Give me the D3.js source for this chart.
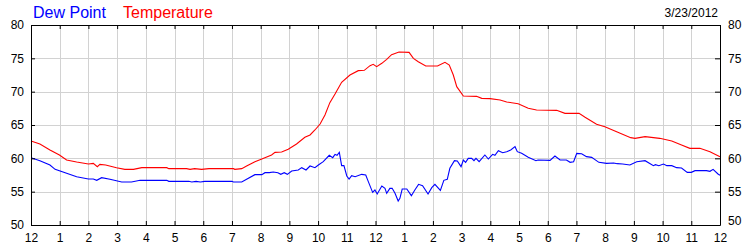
<!DOCTYPE html>
<html>
<head>
<meta charset="utf-8">
<script src="https://cdn.jsdelivr.net/npm/d3@7"></script>
<style>
  html, body { margin: 0; padding: 0; background: #fff; }
  svg { display: block; font-family: "Liberation Sans", Arial, sans-serif; }
</style>
</head>
<body>
<svg id="chart" width="750" height="250"></svg>
<script>
// ---- data ----
const xTickLabels = ["12","1","2","3","4","5","6","7","8","9","10","11","12","1","2","3","4","5","6","7","8","9","10","11","12"];
const yTicks = [50, 55, 60, 65, 70, 75, 80];
const chartDate = "3/23/2012";
const seriesNames = ["Dew Point", "Temperature"];

// hours since midnight, temperature (F)
const tempHours = [0,0.31,0.66,0.99,1.24,1.59,2.0,2.17,2.31,2.4,2.6,2.98,3.27,3.57,3.86,4.73,4.8,5.42,5.54,5.7,5.94,6.2,7.05,7.1,7.34,7.51,7.8,8.04,8.38,8.5,8.73,8.96,9.25,9.54,9.72,9.89,10.07,10.24,10.41,10.59,10.82,11.11,11.4,11.61,11.81,11.92,12.04,12.22,12.39,12.56,12.82,13.17,13.32,13.49,13.75,14.16,14.42,14.57,14.71,14.83,15.06,15.52,15.7,15.99,16.34,16.57,16.97,17.32,17.61,18.31,18.6,19.09,19.3,19.7,19.99,20.4,20.89,21.04,21.39,21.9,22.32,22.66,22.95,23.3,23.65,24];
const tempValues = [62.6,62.15,61.25,60.5,59.75,59.45,59.15,59.25,58.75,59.1,59.0,58.6,58.35,58.35,58.6,58.6,58.45,58.45,58.35,58.45,58.35,58.45,58.45,58.35,58.45,58.85,59.5,59.9,60.5,60.9,60.95,61.35,62.15,63.15,63.5,64.25,65.15,66.5,68.35,69.65,71.4,72.5,73.15,73.2,73.9,74.1,73.75,74.25,74.85,75.55,75.95,75.9,75.0,74.5,73.85,73.85,74.4,74.0,72.5,70.75,69.35,69.3,69.0,68.95,68.75,68.45,68.2,67.5,67.25,67.2,66.75,66.75,66.15,65.1,64.75,64.0,63.1,63.0,63.25,63.0,62.6,62.0,61.5,61.5,61.0,60.25];

// hours since midnight, dew point (F)
const dewHours = [0,0.31,0.66,0.84,1.24,1.59,2.0,2.17,2.29,2.46,2.75,3.16,3.5,3.8,4.73,4.8,5.5,5.6,5.75,5.9,6.05,7.0,7.05,7.34,7.51,7.8,8.04,8.15,8.3,8.44,8.6,8.7,8.82,8.93,9.08,9.31,9.43,9.58,9.72,9.89,10.01,10.18,10.39,10.51,10.59,10.66,10.74,10.82,10.9,11.0,11.08,11.17,11.29,11.52,11.66,11.75,11.9,11.98,12.06,12.22,12.33,12.39,12.5,12.58,12.68,12.79,12.85,12.93,13.09,13.25,13.37,13.5,13.64,13.83,13.96,14.07,14.26,14.38,14.5,14.59,14.75,14.85,14.98,15.06,15.14,15.23,15.35,15.43,15.5,15.61,15.81,15.93,16.08,16.16,16.28,16.43,16.57,16.71,16.86,16.94,17.09,17.32,17.59,17.66,18.08,18.25,18.43,18.65,18.78,18.9,19.01,19.18,19.35,19.53,19.78,20.05,20.3,20.42,20.61,20.86,21.1,21.39,21.68,21.75,21.87,22.03,22.15,22.32,22.49,22.66,22.86,23.0,23.13,23.53,23.65,23.76,23.93,24];
const dewValues = [60.1,59.65,59.0,58.35,57.75,57.25,56.9,56.9,56.7,57.1,56.85,56.45,56.45,56.7,56.7,56.55,56.55,56.45,56.55,56.45,56.55,56.55,56.45,56.45,56.85,57.55,57.55,57.85,57.85,57.95,57.85,57.6,57.85,57.6,58.1,58.25,58.6,58.25,58.85,58.6,59.0,59.5,60.45,60.1,60.6,60.45,60.9,58.9,58.9,57.35,56.9,57.4,57.25,57.6,57.5,56.5,54.9,55.25,54.65,55.85,55.5,54.75,55.5,55.5,54.75,53.6,54.0,55.4,55.4,54.4,55.25,56.1,55.9,54.65,55.6,56.1,55.2,56.7,56.85,58.5,59.65,59.6,58.75,59.75,59.4,60.0,60.0,59.65,60.0,59.5,60.5,59.9,60.6,60.45,61.15,60.85,61.0,61.25,61.75,61.0,60.75,60.15,59.65,59.75,59.7,60.35,59.75,59.75,59.4,59.5,60.75,60.7,60.25,60.15,59.4,59.25,59.3,59.2,59.15,59.0,59.5,59.65,58.9,59.05,58.9,59.15,58.9,58.9,58.6,58.55,57.9,57.9,58.15,58.15,58.05,58.35,57.65,57.45];

// ---- layout ----
const margin = { left: 31, right: 30, top: 25, bottom: 25 };
const W = 750, H = 250;
const x0 = margin.left, x1 = W - margin.right, y0 = H - margin.bottom, y1 = margin.top;

const svg = d3.select("#chart");
const x = d3.scaleLinear().domain([0, 24]).range([x0, x1]);
const y = d3.scaleLinear().domain([50, 80]).range([y0, y1]);
const hourTicks = d3.range(0, 25);

// grid
const grid = svg.append("g").attr("stroke", "#d2d2d2").attr("stroke-width", 1).attr("shape-rendering", "crispEdges");
grid.selectAll("line.v").data(hourTicks.slice(1, -1)).join("line")
  .attr("x1", d => Math.round(x(d)) + 0.5).attr("x2", d => Math.round(x(d)) + 0.5)
  .attr("y1", y1).attr("y2", y0);
grid.selectAll("line.h").data(yTicks.slice(1, -1)).join("line")
  .attr("y1", d => Math.round(y(d)) + 0.5).attr("y2", d => Math.round(y(d)) + 0.5)
  .attr("x1", x0).attr("x2", x1);

// lines
const tempData = tempHours.map((h, i) => [h, tempValues[i]]);
const dewData = dewHours.map((h, i) => [h, dewValues[i]]);
const line = d3.line().x(d => x(d[0])).y(d => y(d[1]));
svg.append("path").datum(tempData).attr("d", line)
  .attr("fill", "none").attr("stroke", "#ff0000").attr("stroke-width", 1.1);
svg.append("path").datum(dewData).attr("d", line)
  .attr("fill", "none").attr("stroke", "#0000ff").attr("stroke-width", 1.1);

// axes
const fmtX = (d, i) => xTickLabels[i];
const axStyle = g => {
  g.attr("font-family", "\"Liberation Sans\", Arial, sans-serif").attr("font-size", 12);
  g.select(".domain").attr("stroke", "#000");
  g.selectAll(".tick line").attr("stroke", "#000");
  g.selectAll(".tick text").attr("fill", "#000");
};
svg.append("g").attr("transform", `translate(0,${y0})`)
  .call(d3.axisBottom(x).tickValues(hourTicks).tickFormat(fmtX).tickSizeInner(-4).tickSizeOuter(0).tickPadding(8))
  .call(axStyle);
svg.append("g").attr("transform", `translate(0,${y1})`)
  .call(d3.axisTop(x).tickValues(hourTicks).tickFormat("").tickSizeInner(-4).tickSizeOuter(0))
  .call(axStyle);
svg.append("g").attr("transform", `translate(${x0},0)`)
  .call(d3.axisLeft(y).tickValues(yTicks).tickFormat(d3.format("d")).tickSizeInner(-4).tickSizeOuter(0).tickPadding(7))
  .call(axStyle);
const rightAxis = svg.append("g").attr("transform", `translate(${x1},0)`)
  .call(d3.axisRight(y).tickValues(yTicks).tickFormat(d3.format("d")).tickSizeInner(-5).tickSizeOuter(0).tickPadding(8))
  .call(axStyle);
// bottom-right label sits slightly raised above the hour label
rightAxis.selectAll(".tick").filter(d => d === 50).select("text").attr("dy", "-0.05em");

// legend
const legendColors = ["#0000ff", "#ff0000"];
const legendX = [33, 123];
svg.selectAll("text.legend").data(seriesNames).join("text")
  .attr("class", "legend")
  .attr("x", (d, i) => legendX[i]).attr("y", 18)
  .attr("font-size", 16).attr("fill", (d, i) => legendColors[i])
  .text(d => d);

svg.append("text").attr("x", 718).attr("y", 17).attr("text-anchor", "end")
  .attr("font-size", 12).attr("fill", "#000").text(chartDate);
</script>
</body>
</html>
